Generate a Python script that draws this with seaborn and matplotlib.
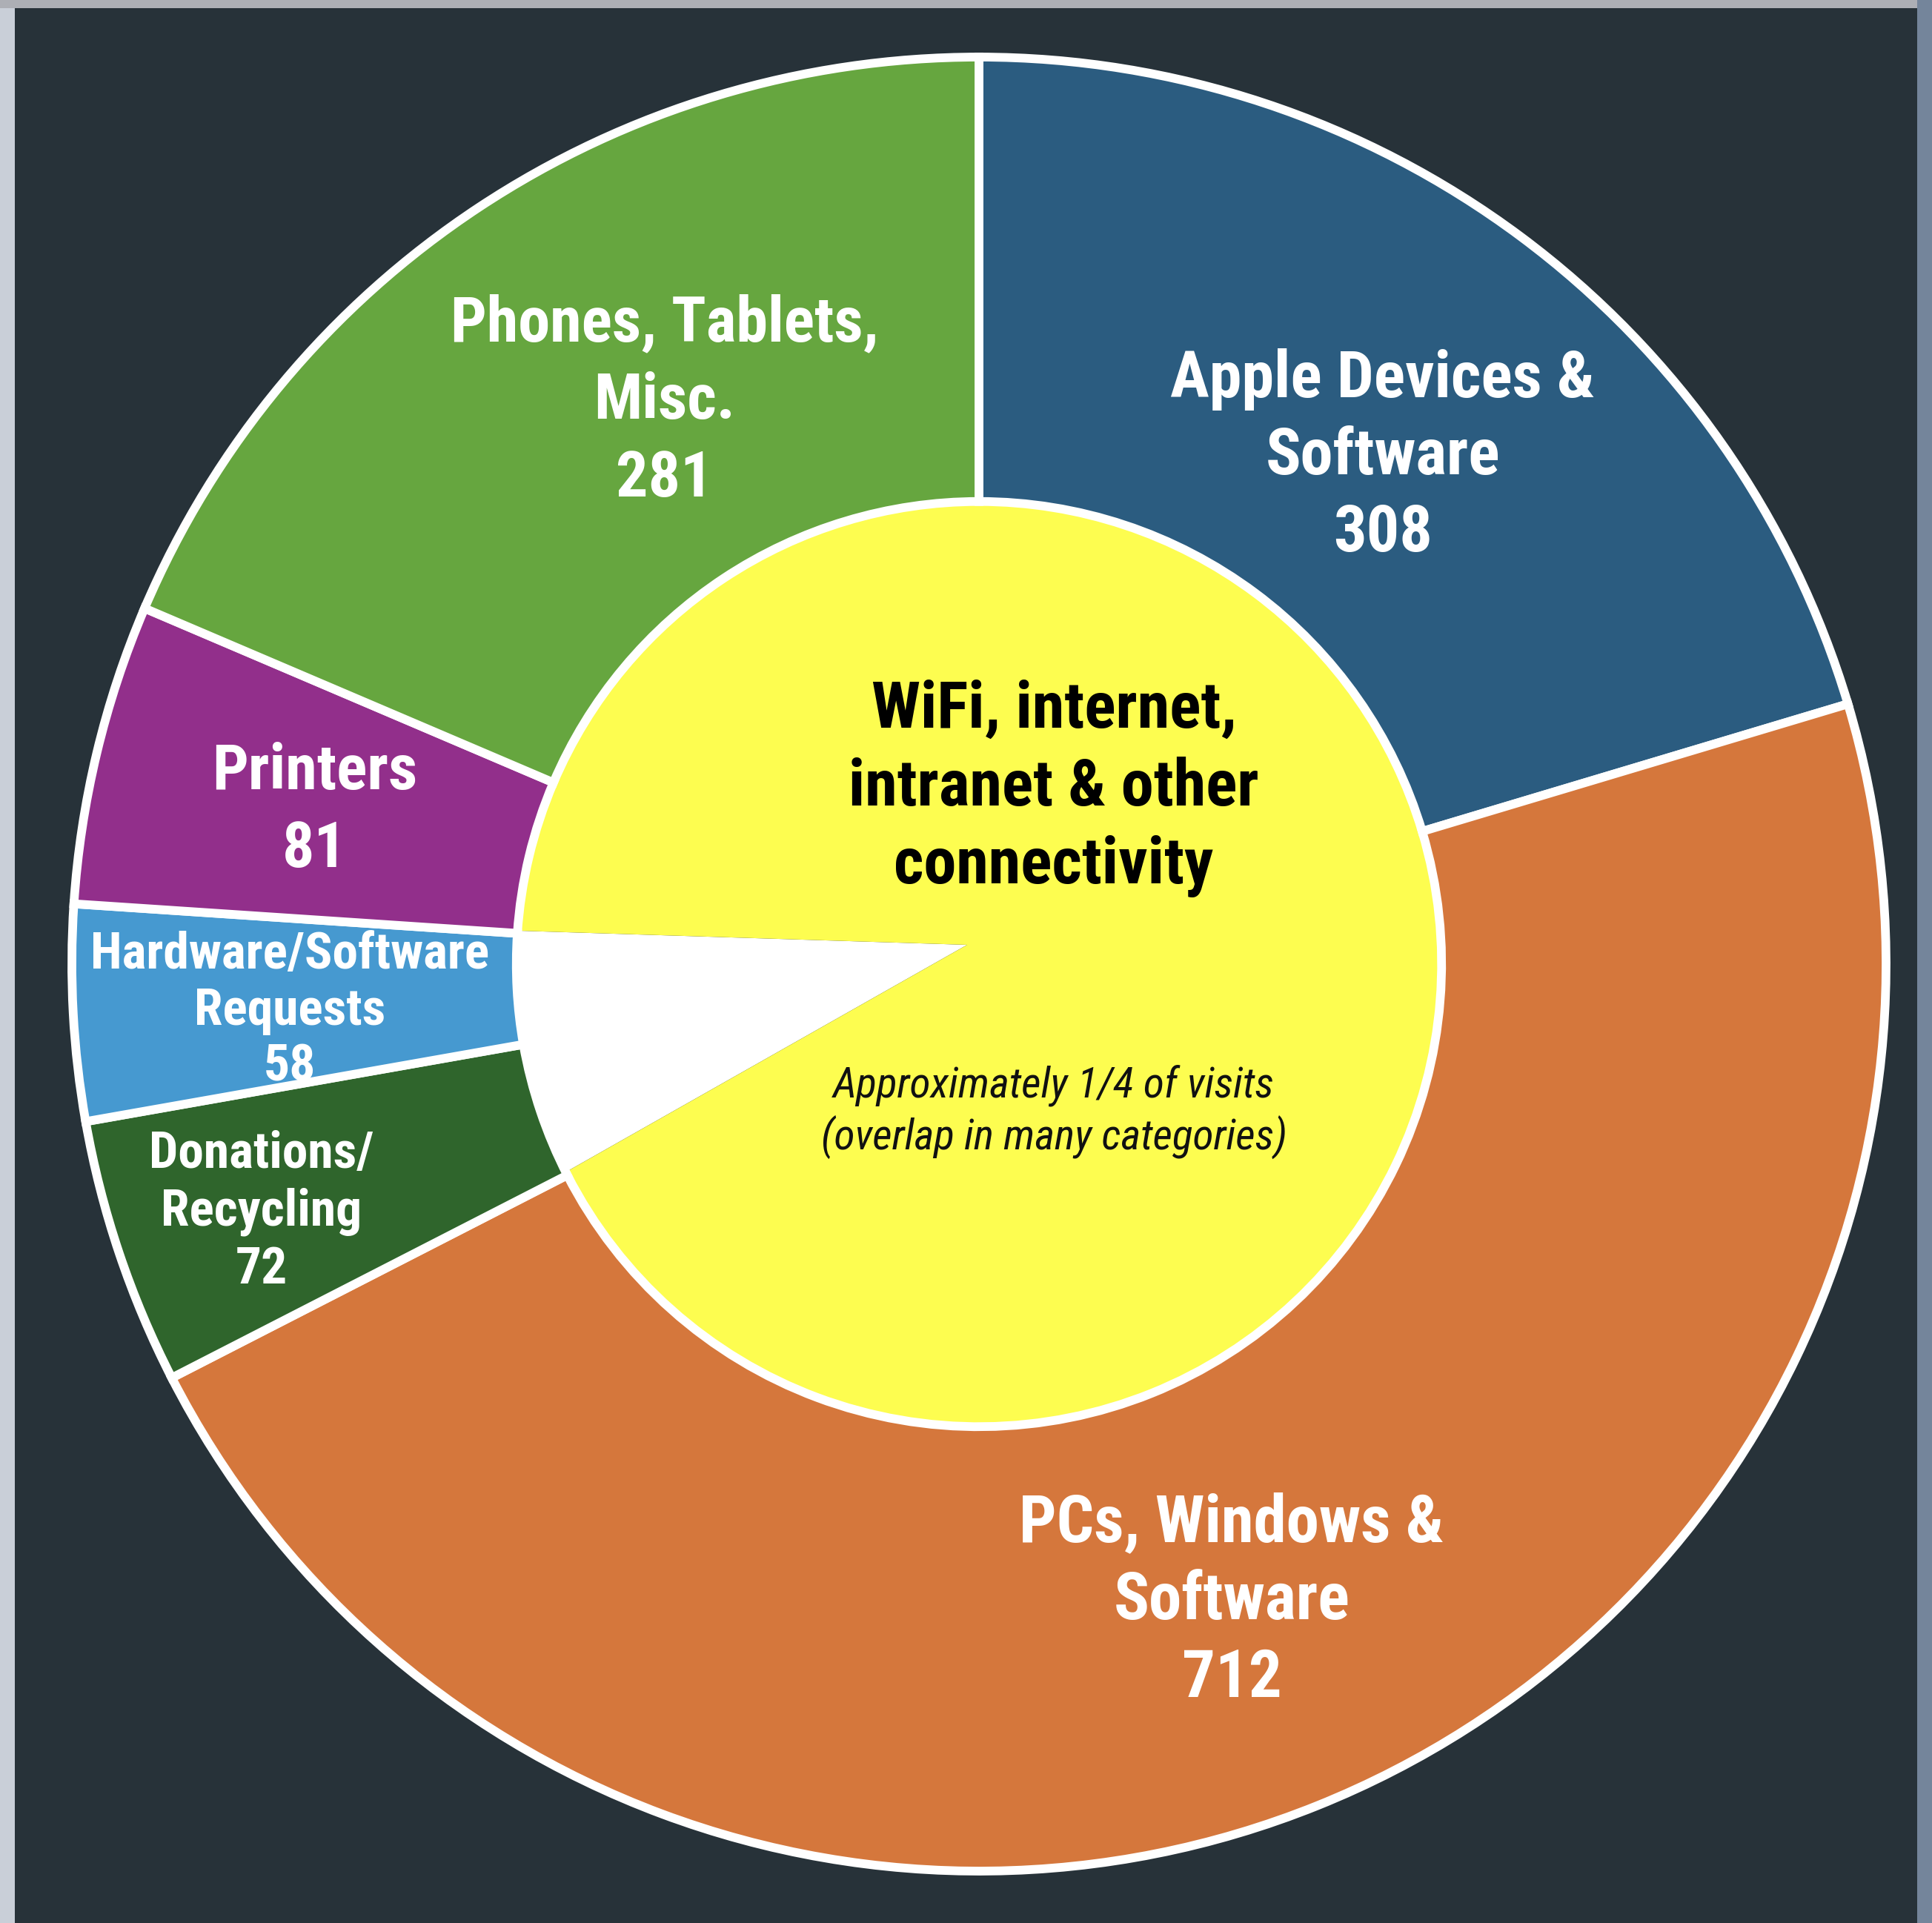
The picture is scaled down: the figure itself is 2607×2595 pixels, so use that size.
import numpy as np
import pandas as pd
import matplotlib
matplotlib.use("Agg")
import matplotlib.pyplot as plt
import seaborn as sns
from matplotlib.patches import Rectangle
from matplotlib import font_manager as fm

# ---------------- data ----------------
categories = ["Apple Devices & Software", "PCs, Windows & Software", "Donations/Recycling",
              "Hardware/Software Requests", "Printers", "Phones, Tablets, Misc."]
label_lines = [["Apple Devices &", "Software"],
               ["PCs, Windows &", "Software"],
               ["Donations/", "Recycling"],
               ["Hardware/Software", "Requests"],
               ["Printers"],
               ["Phones, Tablets,", "Misc."]]
visits = [308, 712, 72, 58, 81, 281]
slice_colors = ["#2B5C80", "#D5773C", "#2F652C", "#4699D0", "#922F8B", "#66A63F"]

center_title_lines = ["WiFi, internet,", "intranet & other", "connectivity"]
center_note_lines = ["Approximately 1/4 of visits", "(overlap in many categories)"]
inner_shares = [8.7, 91.3]          # white gap, yellow connectivity
inner_colors = ["#FFFFFF", "#FDFD50"]

# ---------------- style ----------------
sns.set_theme(style="white")
avail = {f.name for f in fm.fontManager.ttflist}
def pick(cands):
    for c in cands:
        if c in avail:
            return c
    return "DejaVu Sans"
FONT = pick(["Roboto Condensed", "Liberation Sans Narrow", "DejaVu Sans Condensed",
             "Open Sans Condensed", "Roboto", "Liberation Sans"])
plt.rcParams["font.family"] = [FONT, "DejaVu Sans"]

W, H, DPI = 2607, 2595, 100
R = 1224.0                 # pixels per data unit (outer radius)
CX, CY = 1321.0, 1301.0    # pie centre in image pixels (y down)

fig = plt.figure(figsize=(W / DPI, H / DPI), dpi=DPI, facecolor="#a9b5c4")
ax = fig.add_axes([0, 0, 1, 1])
ax.set_facecolor("none")

# backdrop frame + dark panel
ax.add_patch(Rectangle((0, 0), 20 / W, 1, transform=ax.transAxes, color="#c9cfd8", zorder=0, lw=0))
ax.add_patch(Rectangle((0, 1 - 11 / H), 1, 11 / H, transform=ax.transAxes, color="#adafb5", zorder=0, lw=0))
ax.add_patch(Rectangle((2587 / W, 0), 20 / W, 1, transform=ax.transAxes, color="#74859b", zorder=0, lw=0))
ax.add_patch(Rectangle((20 / W, 0), (2587 - 20) / W, (H - 11) / H, transform=ax.transAxes,
                       color="#273239", zorder=0.5, lw=0))

# inner yellow disc with white gap (tip slightly off-centre)
tip = ((1305 - CX) / R, (CY - 1275) / R)
ax.pie(inner_shares, colors=inner_colors, startangle=178.2, counterclock=True,
       radius=0.56, center=tip, wedgeprops=dict(linewidth=0))

# outer ring
wedges, _ = ax.pie(visits, colors=slice_colors, startangle=90, counterclock=False,
                   radius=1.0, wedgeprops=dict(width=0.49, edgecolor="white", linewidth=8.5))

ax.set_aspect("auto")
ax.set_xlim(-CX / R, (W - CX) / R)
ax.set_ylim(-(H - CY) / R, CY / R)
ax.axis("off")

def px(v):
    return v / R

def draw_lines(x, y, lines, size, gap_px, **kw):
    cap = 0.716 * size / 0.72       # cap height in pixels
    n = len(lines)
    for k, t in enumerate(lines):
        yc = y + px(gap_px) * ((n - 1) / 2 - k)
        ax.text(x, yc - px(cap / 2), t, ha="center", va="baseline", fontsize=size, zorder=5, **kw)

# ring labels
label_r = [0.72, 0.75, 0.835, 0.761, 0.753, 0.716]
label_nudge = [-1.5, -0.1, 0.15, 0.4, 0.0, -4.5]
label_size = [63.5, 64, 50, 50, 62, 62]
label_gap = [104, 105, 78, 76, 105, 105]
for w, lines, v, r, dn, fs, g in zip(wedges, label_lines, visits, label_r, label_nudge, label_size, label_gap):
    th = np.deg2rad((w.theta1 + w.theta2) / 2 + dn)
    draw_lines(r * np.cos(th), r * np.sin(th), lines + [str(v)], fs, g,
               color="white", fontweight="bold")

# centre texts
draw_lines(px(101), px(246), center_title_lines, 63.5, 105, color="black", fontweight="bold")
draw_lines(px(101), px(-194), center_note_lines, 41.5, 70, color="#111111", fontstyle="italic")

fig.savefig("out.png", dpi=DPI, facecolor=fig.get_facecolor())
